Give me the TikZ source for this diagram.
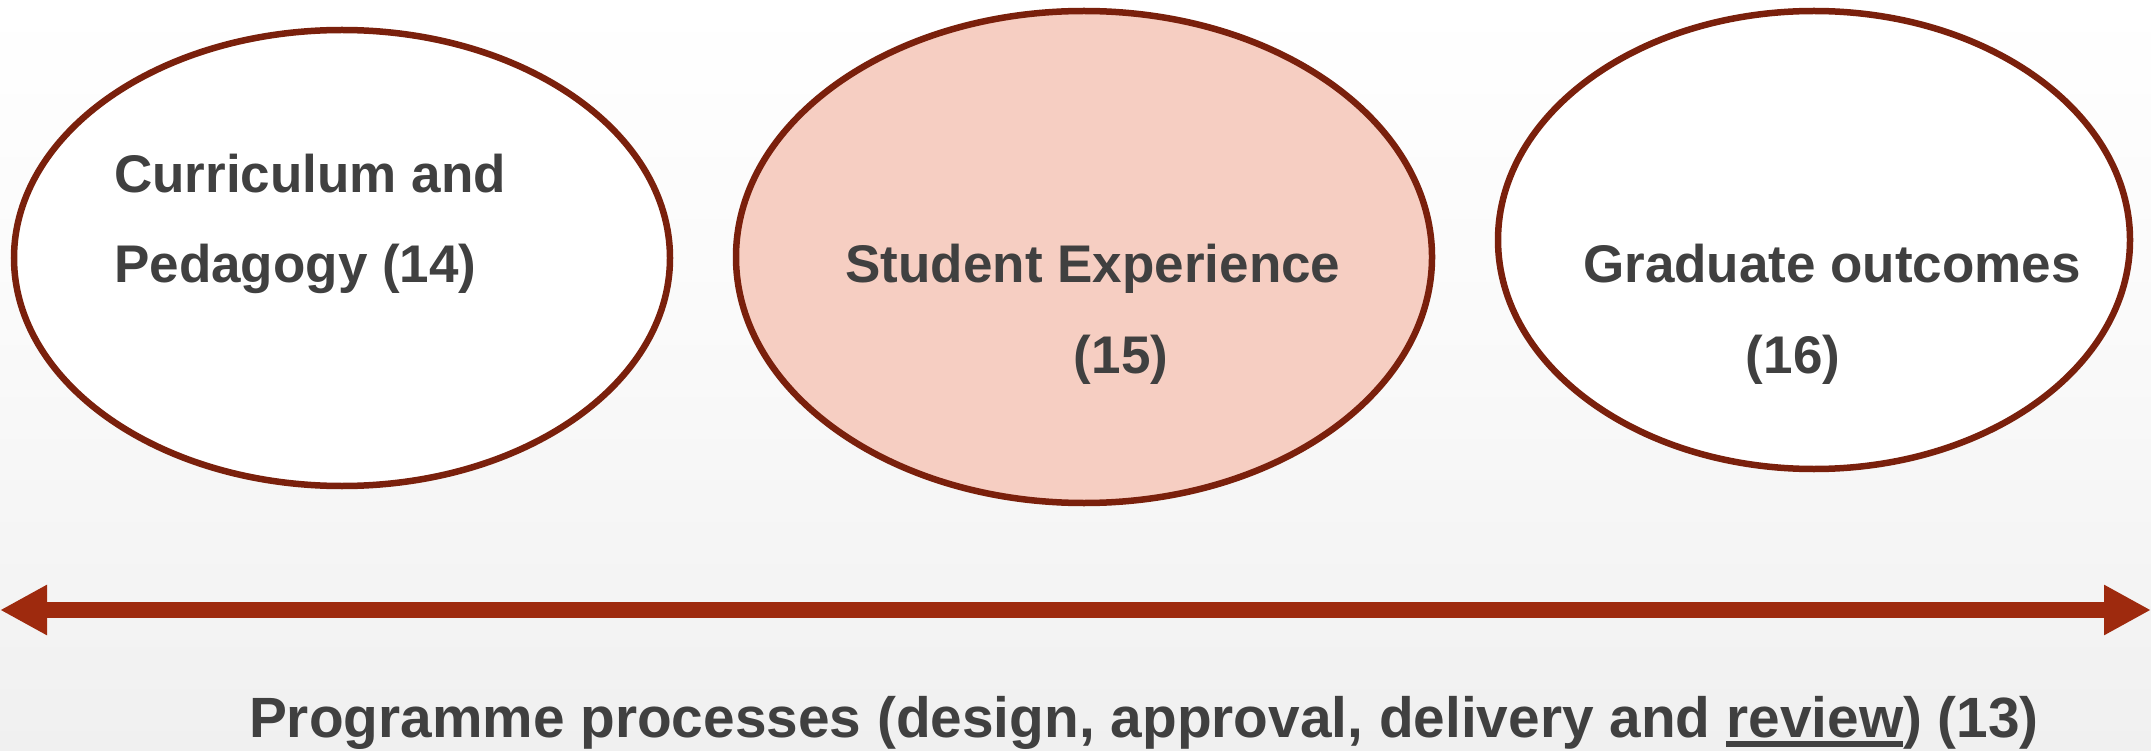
\documentclass[tikz,border=0pt]{standalone}
\usepackage{fontspec}
\setmainfont{Liberation Sans}
\usetikzlibrary{shapes.geometric,arrows.meta}
\definecolor{rim}{RGB}{122,32,12}
\definecolor{shaft}{RGB}{158,42,14}
\definecolor{blush}{RGB}{246,206,194}
\definecolor{ink}{RGB}{64,64,64}
\definecolor{haze}{RGB}{240,240,240}
% thick underline placed a little below the baseline
\newcommand\ulbox[1]{\setbox0\hbox{#1}\rlap{\rule[-10pt]{\wd0}{6pt}}\box0}
\tikzset{
  oval/.style={ellipse, draw=rim, line width=6.5pt, inner sep=0pt},
  label/.style={text=ink, font=\fontsize{53}{53}\selectfont\bfseries, inner sep=0pt},
  flow/.style={draw=shaft, line width=16pt,
    {Triangle[length=47pt,width=47pt]}-{Triangle[length=47pt,width=47pt]}},
}
\begin{document}
\begin{tikzpicture}[x=1pt,y=-1pt]
  % page and soft background, white at the top fading to light grey below
  \useasboundingbox (0,0) rectangle (2151,751);
  \shade[top color=white, bottom color=haze, middle color=white!60!haze] (0,0) rectangle (2151,751);

  % the three areas
  \node[oval, fill=white, minimum width=656pt, minimum height=456pt] (e1) at (342,258) {};
  \node[oval, fill=blush, minimum width=696pt, minimum height=492pt] (e2) at (1084,257) {};
  \node[oval, fill=white, minimum width=632pt, minimum height=458pt] (e3) at (1814,240) {};

  \node[label, anchor=base west] (t1a) at (114,193) {Curriculum and};
  \node[label, anchor=base west] (t1b) at (114,283) {Pedagogy (14)};
  \node[label, anchor=base] (t2a) at (1093,283) {Student Experience};
  \node[label, anchor=base] (t2b) at (1121,373) {(15)};
  \node[label, anchor=base] (t3a) at (1832,283) {Graduate outcomes};
  \node[label, anchor=base] (t3b) at (1793,373) {(16)};

  % double-headed process arrow
  \coordinate (pl) at (0,610);
  \coordinate (pr) at (2151,610);
  \draw[flow] (pl) -- (pr);

  \node[label, anchor=base, font=\fontsize{56.8}{57}\selectfont\bfseries] (t4) at (1144,737)
    {Programme processes (design, approval, delivery and \ulbox{review}) (13)};
\end{tikzpicture}
\end{document}
